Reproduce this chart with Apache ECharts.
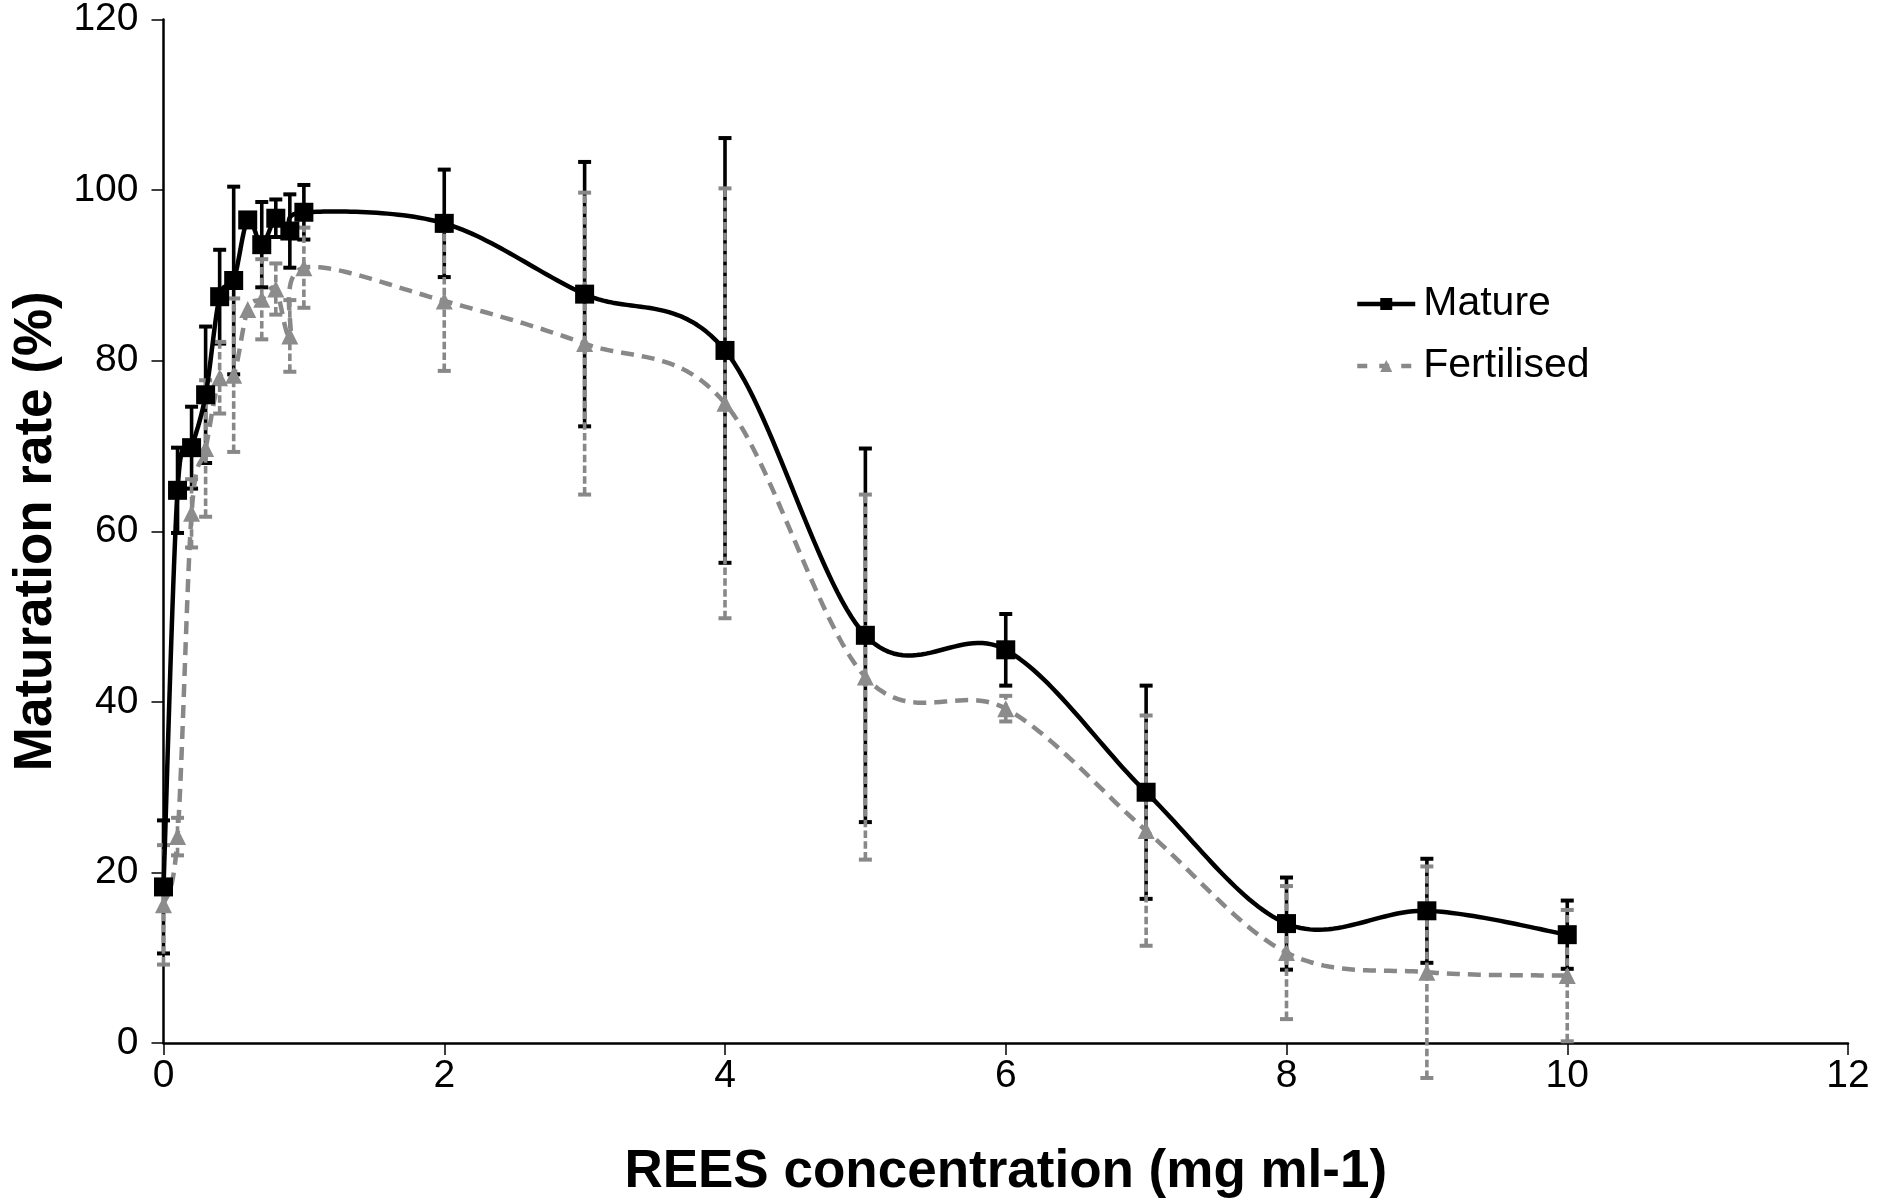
<!DOCTYPE html>
<html>
<head>
<meta charset="utf-8">
<script src="https://cdn.jsdelivr.net/npm/echarts@6/dist/echarts.min.js"></script>
<style>
html,body{margin:0;padding:0;background:#fff;}
#chart{width:1885px;height:1204px;}
</style>
</head>
<body>
<div id="chart"></div>
<script>
// Data
const concentrations = [0, 0.1, 0.2, 0.3, 0.4, 0.5, 0.6, 0.7, 0.8, 0.9, 1, 2, 3, 4, 5, 6, 7, 8, 9, 10];
const matureValues = [18.3, 64.8, 69.8, 76.0, 87.5, 89.4, 96.5, 93.6, 96.7, 95.2, 97.4, 96.1, 87.8, 81.2, 47.8, 46.1, 29.4, 14.0, 15.5, 12.7];
const matureErrors = [7.8, 5.0, 4.8, 8.0, 5.5, 11.0, 0, 5.0, 2.2, 4.3, 3.2, 6.3, 15.5, 24.9, 21.9, 4.2, 12.5, 5.4, 6.1, 4.0];
const fertilisedValues = [16.2, 24.2, 62.1, 69.7, 78.0, 78.3, 86.0, 87.2, 88.4, 82.9, 90.9, 87.0, 82.0, 75.0, 42.9, 39.2, 24.9, 10.6, 8.3, 7.9];
const fertilisedErrors = [7.0, 2.2, 4.0, 8.0, 4.2, 9.0, 0, 4.7, 3.0, 4.2, 4.7, 8.2, 17.7, 25.2, 21.4, 1.5, 13.5, 7.8, 12.4, 7.7];
const seriesNames = ['Mature', 'Fertilised'];
const xAxisTitle = 'REES concentration (mg ml-1)';
const yAxisTitle = 'Maturation rate (%)';

const FONT = "'Liberation Sans', Arial, sans-serif";
const BLACK = '#000000';
const GRAY = '#888888';
const TRI = '#8c8c8c';

function pairs(vals) { return concentrations.map((x, i) => [x, vals[i]]); }
function errData(vals, errs) {
  return concentrations.map((x, i) => [x, vals[i] - errs[i], vals[i] + errs[i], errs[i]]);
}
function errRenderer(color, dash) {
  return function (params, api) {
    if (api.value(3) <= 0) return null;
    const x = api.value(0);
    const lo = api.coord([x, api.value(1)]);
    const hi = api.coord([x, api.value(2)]);
    const hw = 6.5;
    const barStyle = { stroke: color, lineWidth: 3.6, lineDash: dash };
    const capStyle = { stroke: color, lineWidth: 4 };
    return {
      type: 'group',
      children: [
        { type: 'line', shape: { x1: lo[0], y1: lo[1], x2: hi[0], y2: hi[1] }, style: barStyle },
        { type: 'line', shape: { x1: hi[0] - hw, y1: hi[1], x2: hi[0] + hw, y2: hi[1] }, style: capStyle },
        { type: 'line', shape: { x1: lo[0] - hw, y1: lo[1], x2: lo[0] + hw, y2: lo[1] }, style: capStyle }
      ]
    };
  };
}
// Spreadsheet-style smoothed curve (Catmull-Rom Bezier through the data points)
function curveRenderer(vals, color, width, dash) {
  return function (params, api) {
    if (params.dataIndex !== 0) return null;
    const n = concentrations.length;
    const P = concentrations.map((x, i) => api.coord([x, vals[i]]));
    const g = k => P[Math.max(0, Math.min(n - 1, k))];
    const pts = [];
    for (let i = 0; i < n - 1; i++) {
      const p0 = g(i - 1), p1 = g(i), p2 = g(i + 1), p3 = g(i + 2);
      const c1 = [p1[0] + (p2[0] - p0[0]) / 6, p1[1] + (p2[1] - p0[1]) / 6];
      const c2 = [p2[0] - (p3[0] - p1[0]) / 6, p2[1] - (p3[1] - p1[1]) / 6];
      const steps = 30;
      for (let s = (i === 0 ? 0 : 1); s <= steps; s++) {
        const t = s / steps, u = 1 - t;
        const a = u * u * u, b = 3 * u * u * t, c = 3 * u * t * t, d = t * t * t;
        pts.push([a * p1[0] + b * c1[0] + c * c2[0] + d * p2[0],
                  a * p1[1] + b * c1[1] + c * c2[1] + d * p2[1]]);
      }
    }
    return {
      type: 'polyline',
      shape: { points: pts },
      style: { stroke: color, lineWidth: width, lineDash: dash, fill: null, lineJoin: 'round' }
    };
  };
}

const chart = echarts.init(document.getElementById('chart'), null, { renderer: 'canvas' });
chart.setOption({
  animation: false,
  backgroundColor: '#ffffff',
  textStyle: { fontFamily: FONT },
  grid: { left: 163.5, right: 37, top: 17, bottom: 158, containLabel: false },
  legend: {
    orient: 'vertical',
    left: 1350,
    top: 277,
    itemWidth: 58,
    itemHeight: 15,
    itemGap: 18,
    data: [
      { name: seriesNames[0], lineStyle: { color: BLACK, width: 4.5, opacity: 1, type: 'solid' } },
      { name: seriesNames[1], lineStyle: { color: GRAY, width: 4.5, opacity: 1, type: [10, 12] } }
    ],
    textStyle: { fontFamily: FONT, fontSize: 41, color: '#000', lineHeight: 44, padding: [0, 0, 0, 3] }
  },
  xAxis: {
    type: 'value',
    min: 0, max: 12, interval: 2,
    name: xAxisTitle,
    nameLocation: 'middle',
    nameGap: 103,
    nameTextStyle: { fontFamily: FONT, fontSize: 53, fontWeight: 'bold', color: '#000' },
    axisLine: { show: true, onZero: false, lineStyle: { color: '#000', width: 2.5 } },
    axisTick: { show: true, inside: false, length: 12, lineStyle: { color: '#000', width: 1.5 } },
    axisLabel: { fontFamily: FONT, fontSize: 39, color: '#000', margin: 14 },
    splitLine: { show: false }
  },
  yAxis: {
    type: 'value',
    min: 0, max: 120, interval: 20,
    name: yAxisTitle,
    nameLocation: 'middle',
    nameRotate: 90,
    nameGap: 93,
    nameTextStyle: { fontFamily: FONT, fontSize: 53, fontWeight: 'bold', color: '#000' },
    axisLine: { show: true, lineStyle: { color: '#000', width: 2.5 } },
    axisTick: { show: true, inside: false, length: 12, lineStyle: { color: '#000', width: 1.5 } },
    axisLabel: { fontFamily: FONT, fontSize: 39, color: '#000', margin: 25 },
    splitLine: { show: false }
  },
  series: [
    {
      name: 'MatureErr', type: 'custom',
      renderItem: errRenderer(BLACK, null),
      data: errData(matureValues, matureErrors),
      encode: { x: 0, y: [1, 2] }, clip: false, z: 1, silent: true
    },
    {
      name: 'FertilisedErr', type: 'custom',
      renderItem: errRenderer(GRAY, [7.5, 3.3]),
      data: errData(fertilisedValues, fertilisedErrors),
      encode: { x: 0, y: [1, 2] }, clip: false, z: 2, silent: true
    },
    {
      name: 'FertilisedCurve', type: 'custom',
      renderItem: curveRenderer(fertilisedValues, GRAY, 4.5, [13, 8]),
      data: pairs(fertilisedValues),
      encode: { x: 0, y: 1 }, clip: false, z: 3, silent: true
    },
    {
      name: 'MatureCurve', type: 'custom',
      renderItem: curveRenderer(matureValues, BLACK, 4.5, null),
      data: pairs(matureValues),
      encode: { x: 0, y: 1 }, clip: false, z: 4, silent: true
    },
    {
      name: 'Fertilised', type: 'line',
      data: pairs(fertilisedValues),
      symbol: 'triangle', symbolSize: 17,
      clip: false, z: 5,
      lineStyle: { color: GRAY, width: 4.5, opacity: 0 },
      itemStyle: { color: TRI, borderWidth: 0 }
    },
    {
      name: 'Mature', type: 'line',
      data: pairs(matureValues),
      symbol: 'rect', symbolSize: 19,
      clip: false, z: 6,
      lineStyle: { color: BLACK, width: 4.5, opacity: 0 },
      itemStyle: { color: BLACK, borderWidth: 0 }
    }
  ]
});
</script>
</body>
</html>
